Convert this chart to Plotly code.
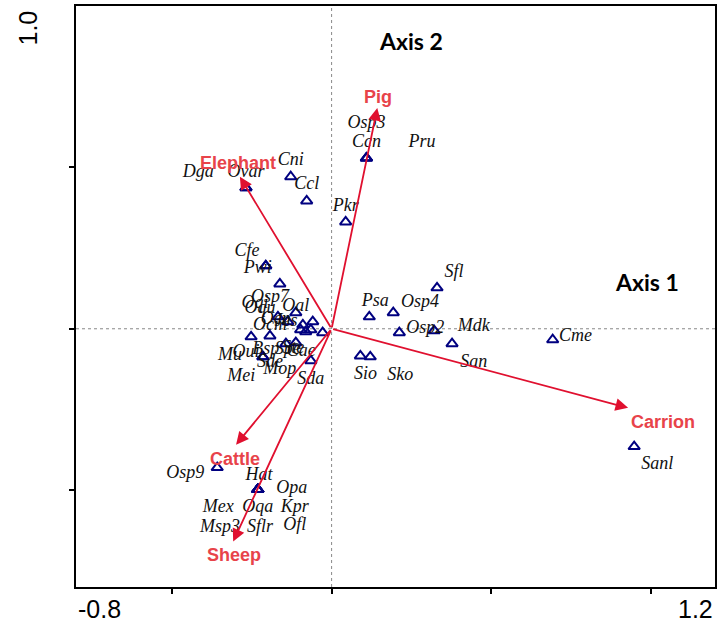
import plotly.graph_objects as go

# species scores (axis 1, axis 2) and where their labels sit
species = ['Dga', 'Ovar', 'Cni', 'Ccl', 'Pkr', 'Osp3', 'Ccn', 'Pru', 'Cfe', 'Pwi',
           'Osp7', 'Oqu', 'Oqi', 'Oal', 'Ocm', 'Jes', 'Oen', 'Mop', 'Cae', 'Ste',
           'Mu', 'Oui', 'Bsp', 'Spe', 'Sde', 'Mei', 'Sda',
           'Sfl', 'Psa', 'Osp4', 'Osp2', 'Mdk', 'San', 'Sio', 'Sko', 'Cme', 'Sanl',
           'Osp9', 'Hat', 'Opa', 'Mex', 'Oqa', 'Kpr', 'Msp3', 'Sflr', 'Ofl']
sp_x = [-0.268, -0.268, -0.128, -0.078, 0.044, 0.109, 0.109, 0.109, -0.206, -0.206,
        -0.162, -0.168, -0.059, -0.112, -0.137, -0.090, -0.097, -0.081, -0.065, -0.028,
        -0.252, -0.193, -0.143, -0.112, -0.215, -0.215, -0.065,
        0.330, 0.118, 0.193, 0.212, 0.321, 0.377, 0.090, 0.121, 0.692, 0.947,
        -0.358, -0.231, -0.231, -0.231, -0.231, -0.231, -0.231, -0.231, -0.231]
sp_y = [0.437, 0.437, 0.471, 0.396, 0.331, 0.529, 0.529, 0.529, 0.195, 0.195,
        0.139, 0.037, 0.022, 0.050, 0.022, 0.012, -0.003, -0.009, -0.003, -0.012,
        -0.025, -0.022, -0.046, -0.043, -0.087, -0.087, -0.099,
        0.127, 0.037, 0.050, -0.012, -0.006, -0.046, -0.084, -0.087, -0.034, -0.365,
        -0.430, -0.498, -0.498, -0.498, -0.498, -0.498, -0.498, -0.498, -0.498]
lab_x = [-0.417, -0.268, -0.128, -0.078, 0.044, 0.109, 0.109, 0.283, -0.265, -0.231,
         -0.193, -0.224, -0.240, -0.112, -0.193, -0.143, -0.175, -0.162, -0.095, -0.120,
         -0.318, -0.268, -0.206, -0.137, -0.193, -0.283, -0.065,
         0.383, 0.137, 0.277, 0.293, 0.445, 0.445, 0.106, 0.215, 0.763, 1.019,
         -0.458, -0.227, -0.125, -0.355, -0.231, -0.115, -0.349, -0.224, -0.115]
lab_y = [0.483, 0.483, 0.520, 0.446, 0.378, 0.635, 0.576, 0.576, 0.238, 0.186,
         0.096, 0.062, 0.077, 0.068, 0.009, 0.022, 0.030, -0.127, -0.071, -0.060,
         -0.084, -0.074, -0.065, -0.065, -0.105, -0.149, -0.158,
         0.173, 0.084, 0.080, 0.000, 0.006, -0.105, -0.142, -0.146, -0.025, -0.421,
         -0.449, -0.455, -0.495, -0.554, -0.554, -0.554, -0.616, -0.616, -0.610]

# environmental variables (arrow tips) and their label positions
env = ['Elephant', 'Pig', 'Carrion', 'Cattle', 'Sheep']
env_x = [-0.287, 0.143, 0.928, -0.299, -0.308]
env_y = [0.471, 0.684, -0.245, -0.359, -0.659]
env_lx = [-0.293, 0.146, 1.037, -0.302, -0.305]
env_ly = [0.514, 0.718, -0.288, -0.402, -0.700]

x_range = [-0.8, 1.2]
y_range = [-0.8, 1.0]

fig = go.Figure()

fig.add_trace(go.Scatter(
    x=sp_x, y=sp_y, mode='markers',
    marker=dict(symbol='triangle-up-open', size=10, color='#000080',
                line=dict(width=2, color='#000080')),
    hoverinfo='skip', showlegend=False,
))
fig.add_trace(go.Scatter(
    x=lab_x, y=lab_y, mode='text', text=[f'<i>{s}</i>' for s in species],
    textposition='middle center',
    textfont=dict(family='Liberation Serif', size=18, color='#111111'),
    hoverinfo='skip', showlegend=False,
))

# dotted zero lines
fig.add_shape(type='line', x0=0, x1=0, y0=y_range[0], y1=y_range[1],
              line=dict(color='#888888', width=1, dash='dot'), layer='below')
fig.add_shape(type='line', x0=x_range[0], x1=x_range[1], y0=0, y1=0,
              line=dict(color='#888888', width=1, dash='dot'), layer='below')

red = '#e0102f'
for name, tx, ty, lx, ly in zip(env, env_x, env_y, env_lx, env_ly):
    fig.add_annotation(x=tx, y=ty, ax=0, ay=0, xref='x', yref='y',
                       axref='x', ayref='y', text='', showarrow=True,
                       arrowhead=2, arrowsize=1.4, arrowwidth=1.8,
                       arrowcolor=red)
    fig.add_annotation(x=lx, y=ly, xref='x', yref='y', text=f'<b>{name}</b>',
                       showarrow=False,
                       font=dict(family='Liberation Sans', size=18,
                                 color='#e8434a'))

fig.add_annotation(x=0.249, y=0.892, text='<b>Axis 2</b>', showarrow=False,
                   font=dict(family='Lato', size=23, color='black'))
fig.add_annotation(x=0.988, y=0.146, text='<b>Axis 1</b>', showarrow=False,
                   font=dict(family='Lato', size=23, color='black'))

# end-of-axis labels
tick_font = dict(family='Liberation Sans', size=25, color='black')
fig.add_annotation(x=x_range[0], y=0, xref='x', yref='paper', text='-0.8',
                   showarrow=False, xanchor='left', yanchor='top', yshift=-6,
                   font=tick_font)
fig.add_annotation(x=x_range[1], y=0, xref='x', yref='paper', text='1.2',
                   showarrow=False, xanchor='right', yanchor='top', yshift=-6,
                   font=tick_font)
fig.add_annotation(x=0, y=y_range[1], xref='paper', yref='y', text='1.0',
                   showarrow=False, textangle=-90, xanchor='center',
                   yanchor='top', xshift=-49, yshift=-3, font=tick_font)

fig.update_xaxes(range=x_range, showgrid=False, zeroline=False,
                 showline=True, linecolor='black', linewidth=2, mirror=True,
                 ticks='outside', ticklen=5, tickwidth=1.5, tickcolor='black',
                 tickvals=[-0.5, 0, 0.5, 1.0], showticklabels=False)
fig.update_yaxes(range=y_range, showgrid=False, zeroline=False,
                 showline=True, linecolor='black', linewidth=2, mirror=True,
                 ticks='outside', ticklen=5, tickwidth=1.5, tickcolor='black',
                 tickvals=[-0.5, 0, 0.5], showticklabels=False)

fig.update_layout(
    width=719, height=626,
    margin=dict(l=76, r=2, t=6, b=39),
    plot_bgcolor='white', paper_bgcolor='white',
    showlegend=False,
)

# drop the page's default body margin so the figure sits at the window origin
fig.write_html(
    'out.html',
    config={'displayModeBar': False},
    post_script="document.body.style.margin='0';document.body.style.overflow='hidden';",
)
